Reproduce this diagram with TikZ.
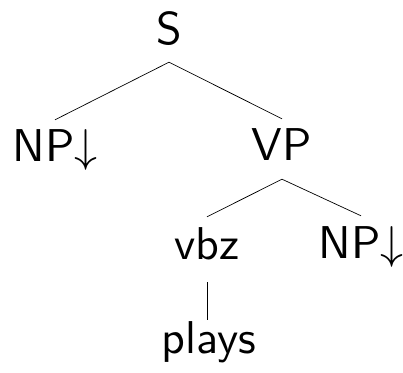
\RequirePackage{fix-cm}
\documentclass[tikz,border=0pt]{standalone}
\usepackage{fontspec}
\setsansfont{lmsans10-regular.otf}
\begin{document}
\begin{tikzpicture}[x=1pt,y=1pt,
  lbl/.style={anchor=base,inner sep=0pt,text height=42pt,text depth=17pt,
    font=\fontsize{46}{54}\selectfont\sffamily},
  edge/.style={draw=black,line width=0.7pt}]
\useasboundingbox (0,0) rectangle (403,372);
\node[lbl] (S) at (169,327) {S};
\node[lbl] (NPl) at (55,210) {NP$\downarrow$};
\node[lbl,text depth=18pt] (VP) at (282,211) {VP};
\node[lbl,text depth=23pt] (vbz) at (207,113) {vbz};
\node[lbl] (NPr) at (361,114) {NP$\downarrow$};
\node[lbl,text height=33pt] (plays) at (209,19) {plays};
\draw[edge] (S.south) -- (NPl.north);
\draw[edge] (S.south) -- (VP.north);
\draw[edge] (VP.south) -- (vbz.north);
\draw[edge] (VP.south) -- (NPr.north);
\draw[edge] (vbz.south) -- (vbz.south|-plays.north);
\end{tikzpicture}
\end{document}
